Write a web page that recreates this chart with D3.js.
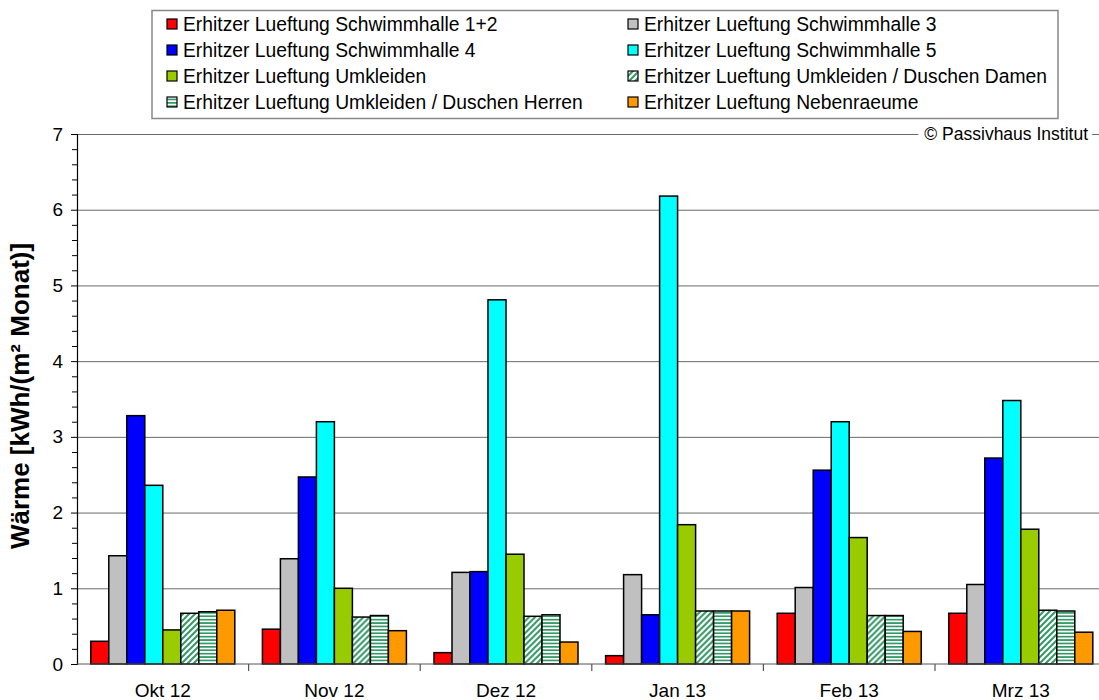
<!DOCTYPE html>
<html><head><meta charset="utf-8">
<script src="https://cdn.jsdelivr.net/npm/d3@7"></script>
<style>
body{margin:0;background:#fff;}
svg{display:block;font-family:Arial,"Liberation Sans",sans-serif;}
</style></head>
<body><svg id="c" width="1099" height="700"></svg>
<script>
const categories = ["Okt 12","Nov 12","Dez 12","Jan 13","Feb 13","Mrz 13"];
const seriesNames = [
  "Erhitzer Lueftung Schwimmhalle 1+2",
  "Erhitzer Lueftung Schwimmhalle 3",
  "Erhitzer Lueftung Schwimmhalle 4",
  "Erhitzer Lueftung Schwimmhalle 5",
  "Erhitzer Lueftung Umkleiden",
  "Erhitzer Lueftung Umkleiden / Duschen Damen",
  "Erhitzer Lueftung Umkleiden / Duschen Herren",
  "Erhitzer Lueftung Nebenraeume"
];
const schwimmhalle12 = [0.30,0.46,0.15,0.11,0.67,0.67];
const schwimmhalle3  = [1.43,1.39,1.21,1.18,1.01,1.05];
const schwimmhalle4  = [3.28,2.47,1.22,0.65,2.56,2.72];
const schwimmhalle5  = [2.36,3.20,4.81,6.18,3.20,3.48];
const umkleiden      = [0.45,1.00,1.45,1.84,1.67,1.78];
const duschenDamen   = [0.67,0.62,0.63,0.70,0.64,0.71];
const duschenHerren  = [0.69,0.64,0.65,0.70,0.64,0.70];
const nebenraeume    = [0.71,0.44,0.29,0.70,0.43,0.42];
const yTicks = [0,1,2,3,4,5,6,7];
const yTitle = "Wärme [kWh/(m² Monat)]";
const copyright = "© Passivhaus Institut";

const seriesValues = [schwimmhalle12,schwimmhalle3,schwimmhalle4,schwimmhalle5,umkleiden,duschenDamen,duschenHerren,nebenraeume];
const fills = ["#ff0000","#c0c0c0","#0000ff","#00ffff","#99cc00","url(#diag)","url(#horiz)","#ff9900"];

const svg = d3.select("#c");
const defs = svg.append("defs");
const hatch = "#339966";
const pd = defs.append("pattern").attr("id","diag").attr("patternUnits","userSpaceOnUse")
  .attr("width",6).attr("height",6);
pd.append("rect").attr("width",6).attr("height",6).attr("fill","#fff");
pd.append("path").attr("d","M-1,7 L7,-1 M-4,4 L4,-4 M2,10 L10,2").attr("stroke",hatch).attr("stroke-width",2);
const ph = defs.append("pattern").attr("id","horiz").attr("patternUnits","userSpaceOnUse")
  .attr("width",6).attr("height",3.4);
ph.append("rect").attr("width",6).attr("height",3.4).attr("fill","#fff");
ph.append("rect").attr("y",0).attr("width",6).attr("height",1.7).attr("fill",hatch);

const left = 77, bandW = 171.6;
const y = d3.scaleLinear().domain([0,7]).range([664,134]);
const x0 = d3.scaleBand().domain(categories).range([left, left + bandW*categories.length]);
const x1 = d3.scaleBand().domain(seriesNames).range([13.8, x0.bandwidth()-13.8]);
const W = 1099;

// gridlines
const grid = svg.append("g").attr("transform",`translate(${left},0)`)
  .call(d3.axisLeft(y).tickValues(yTicks.slice(1)).tickSize(-(W-left)).tickFormat(""));
grid.select(".domain").remove();
grid.selectAll("line").attr("stroke","#6a6a6a").attr("stroke-width",1);

// copyright label with white background
const cg = svg.append("g");
const ct = cg.append("text").attr("x",1088).attr("y",y(7)).attr("dy","0.35em")
  .attr("text-anchor","end").attr("font-size",17.5).attr("fill","#000").text(copyright);
const bb = ct.node().getBBox();
cg.insert("rect","text").attr("x",bb.x-6).attr("y",bb.y).attr("width",bb.width+10).attr("height",bb.height).attr("fill","#fff");

// bars
const groups = svg.append("g").selectAll("g").data(categories).join("g")
  .attr("transform",d=>`translate(${x0(d)},0)`);
groups.selectAll("rect").data((c,ci)=>seriesNames.map((s,si)=>({s,si,v:seriesValues[si][ci]})))
  .join("rect")
  .attr("x",d=>x1(d.s)).attr("width",x1.bandwidth())
  .attr("y",d=>y(d.v)).attr("height",d=>y(0)-y(d.v))
  .attr("fill",d=>fills[d.si]).attr("stroke","#000").attr("stroke-width",1.5);

// y axis major
const ya = svg.append("g").attr("transform",`translate(${left},0)`)
  .call(d3.axisLeft(y).tickValues(yTicks).tickSize(6).tickPadding(8).tickFormat(d3.format("d")));
ya.select(".domain").attr("stroke","#000").attr("stroke-width",1.2);
ya.selectAll("line").attr("stroke","#000");
ya.selectAll("text").attr("font-size",19).attr("font-family","Arial, 'Liberation Sans', sans-serif").attr("fill","#000");
// minor ticks
const minorVals = d3.range(0,35).map(i=>i*0.2).filter(v=>Math.abs(v-Math.round(v))>1e-6);
const ym = svg.append("g").attr("transform",`translate(${left},0)`)
  .call(d3.axisLeft(y).tickValues(minorVals).tickSize(5).tickFormat(""));
ym.select(".domain").remove();
ym.selectAll("line").attr("stroke","#000");

// x axis
const xa = svg.append("g").attr("transform",`translate(0,${y(0)})`)
  .call(d3.axisBottom(x0).tickSize(0).tickPadding(20));
xa.select(".domain").remove();
xa.selectAll("text").attr("font-size",19).attr("font-family","Arial, 'Liberation Sans', sans-serif").attr("fill","#000");
svg.append("line").attr("x1",left).attr("x2",W).attr("y1",y(0)).attr("y2",y(0)).attr("stroke","#555").attr("stroke-width",1.2);
svg.append("g").selectAll("line").data(categories.slice(1)).join("line")
  .attr("x1",d=>x0(d)).attr("x2",d=>x0(d)).attr("y1",y(0)).attr("y2",y(0)+7)
  .attr("stroke","#555").attr("stroke-width",1.2);

// y title
svg.append("text").attr("transform",`translate(29,${(y(0)+y(7))/2 - 3}) rotate(-90)`)
  .attr("text-anchor","middle").attr("font-size",26).attr("font-weight","bold").text(yTitle);

// legend
const lg = svg.append("g");
lg.append("rect").attr("x",152).attr("y",10.5).attr("width",906).attr("height",108)
  .attr("fill","#fff").attr("stroke","#888").attr("stroke-width",1.5);
const colX = [167, 628], rowY = [24, 50, 76, 102];
const items = lg.selectAll("g.it").data(seriesNames).join("g").attr("class","it")
  .attr("transform",(d,i)=>`translate(${colX[i%2]},${rowY[Math.floor(i/2)]})`);
items.append("rect").attr("x",0).attr("y",-5).attr("width",10).attr("height",10)
  .attr("fill",(d,i)=>fills[i]).attr("stroke","#000").attr("stroke-width",1.2);
items.append("text").attr("x",16).attr("dy","0.35em").attr("font-size",19.3).text(d=>d);
</script></body></html>
